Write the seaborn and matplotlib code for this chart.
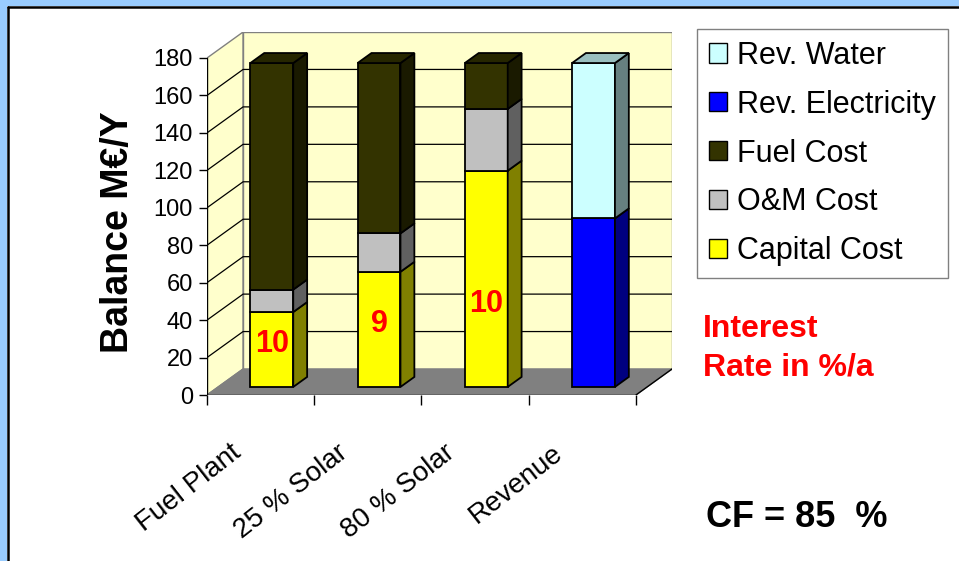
#!/usr/bin/env python3
"""
plot.py

Excel-style 3D stacked bar chart: annual balance of a fuel plant vs. solar
hybrid plants against revenue (seaborn front faces + projected side faces).
"""

import numpy as np
import pandas as pd
import matplotlib
matplotlib.use('Agg')
import matplotlib.pyplot as plt
from matplotlib.patches import Polygon, Patch, Rectangle
from matplotlib.lines import Line2D
import seaborn as sns


CATEGORIES = ['Fuel Plant', '25 % Solar', '80 % Solar', 'Revenue']
CAPITAL = [40, 61.5, 115.5, 0]
OM = [12, 20.5, 33, 0]
FUEL = [121, 91, 24.5, 0]
REV_ELEC = [0, 0, 0, 90]
REV_WATER = [0, 0, 0, 83]
INTEREST = ['10', '9', '10']
Y_TICKS = list(range(0, 181, 20))

# bottom -> top: (label, values, front colour, side colour, top colour)
SERIES = [
    ('Capital Cost', CAPITAL, '#ffff00', '#808000', '#bfbf00'),
    ('O&M Cost', OM, '#c0c0c0', '#606060', '#909090'),
    ('Fuel Cost', FUEL, '#333300', '#1a1a00', '#262600'),
    ('Rev. Electricity', REV_ELEC, '#0000ff', '#000080', '#0000bf'),
    ('Rev. Water', REV_WATER, '#ccffff', '#668080', '#99bfbf'),
]

# 3D look, in data units
DX, DY = 36 / 107, 26 * 180 / 337     # depth of the box
BAR_Z0, BAR_DZ = 0.31, 0.385          # bar front position / thickness (fraction of depth)
BAR_W = 0.4
YMAX = 180
W, H = 959, 561


def fx(px):
    return px / W


def fy(py):
    return 1 - py / H


sns.set_style('white')
plt.rcParams['font.family'] = ['Liberation Sans', 'DejaVu Sans']
plt.rcParams['text.color'] = 'black'
plt.rcParams['axes.labelcolor'] = 'black'

fig = plt.figure(figsize=(W / 100, H / 100), dpi=100)
fig.patch.set_facecolor('white')
ax = fig.add_axes([fx(207), fy(395), 465 / W, 363 / H])
ax.set_facecolor('none')

x0, x1 = -0.5, len(CATEGORIES) - 0.5

# --- walls, floor, gridlines ---
ax.add_patch(Polygon([(x0, 0), (x0 + DX, DY), (x0 + DX, YMAX + DY), (x0, YMAX)],
                     closed=True, fc='#ffffcc', ec='#808080', lw=1, zorder=0))
ax.add_patch(Rectangle((x0 + DX, DY), x1 - x0, YMAX,
                       fc='#ffffcc', ec='#808080', lw=1, zorder=0))
ax.add_patch(Polygon([(x0, 0), (x1, 0), (x1 + DX, DY), (x0 + DX, DY)],
                     closed=True, fc='#808080', ec='#808080', lw=1, zorder=0.5))
for v in Y_TICKS[1:-1]:
    ax.plot([x0, x0 + DX, x1 + DX], [v, v + DY, v + DY], color='black', lw=0.9, zorder=1)
ax.plot([x1, x1 + DX], [0, DY], color='black', lw=1, zorder=1)
ax.plot([x0, x0], [0, YMAX], color='black', lw=1, zorder=1)
ax.plot([x0, x1], [0, 0], color='black', lw=1, zorder=1)

# --- stacked bars ---
totals = np.sum([s[1] for s in SERIES], axis=0)
bottom = np.zeros(len(CATEGORIES))
ddx, ddy = BAR_DZ * DX, BAR_DZ * DY
for name, vals, face, side, topc in SERIES:
    vals = np.asarray(vals, dtype=float)
    keep = vals > 0
    df = pd.DataFrame({'scenario': np.array(CATEGORIES)[keep], 'value': vals[keep]})
    n = len(ax.patches)
    sns.barplot(data=df, x='scenario', y='value', order=CATEGORIES, color=face,
                saturation=1, width=BAR_W, bottom=list(bottom[keep]), errorbar=None,
                edgecolor='black', linewidth=1.3, ax=ax, zorder=3)
    is_top = (bottom + vals >= totals - 1e-9)[keep]
    for p, top_flag in zip(ax.patches[n:], is_top):
        px = p.get_x() + BAR_Z0 * DX
        py = p.get_y() + BAR_Z0 * DY
        w, h = p.get_width(), p.get_height()
        p.set_x(px)
        p.set_y(py)
        ax.add_patch(Polygon([(px + w, py), (px + w + ddx, py + ddy),
                              (px + w + ddx, py + h + ddy), (px + w, py + h)],
                             closed=True, fc=side, ec='black', lw=1.3, zorder=3))
        if top_flag:
            ax.add_patch(Polygon([(px, py + h), (px + w, py + h),
                                  (px + w + ddx, py + h + ddy), (px + ddx, py + h + ddy)],
                                 closed=True, fc=topc, ec='black', lw=1.3, zorder=3))
    bottom += vals

# interest rate labels on the capital cost segment
label_base = [23, 33.7, 44.3]
for i, txt in enumerate(INTEREST):
    ax.text(i + BAR_Z0 * DX, label_base[i], txt, ha='center', va='baseline',
            color='red', fontsize=22, fontweight='bold', zorder=5)

# --- axes ---
ax.set_xlim(x0, x1 + DX)
ax.set_ylim(0, YMAX + DY)
for s in ax.spines.values():
    s.set_visible(False)
ax.set_yticks(Y_TICKS)
ax.tick_params(axis='y', left=True, length=6, width=1, pad=4, labelsize=17,
               colors='black', direction='out')
ax.set_xticks([])
ax.set_xticks(np.arange(x0, x1 + 0.01, 1), minor=True)
ax.tick_params(axis='x', which='minor', bottom=True, length=7, width=1,
               colors='black', direction='out')
ax.set_xlabel('')
ax.set_ylabel('Balance M€/Y', fontsize=27, fontweight='bold', color='black')
ax.yaxis.set_label_coords(-0.153, 0.449)

for i, c in enumerate(CATEGORIES):
    ax.text(i - 23 / 107, -0.152, c, transform=ax.get_xaxis_transform(),
            rotation=38, ha='right', va='center', rotation_mode='anchor',
            fontsize=20, color='black')

# --- legend ---
handles = [Patch(facecolor=s[2], edgecolor='black', lw=1, label=s[0]) for s in reversed(SERIES)]
leg = fig.legend(handles=handles, loc='upper left', bbox_to_anchor=(fx(697), fy(29)),
                 fontsize=22, frameon=True, fancybox=False, edgecolor='#808080',
                 framealpha=1, borderpad=0.38, labelspacing=0.62, handlelength=0.6,
                 handleheight=0.6, handletextpad=0.33, borderaxespad=0, labelcolor='black')
leg.get_frame().set_linewidth(1)

# --- notes ---
fig.text(fx(703), fy(337), 'Interest', color='red', fontsize=23, fontweight='bold', va='baseline')
fig.text(fx(703), fy(375), 'Rate in %/a', color='red', fontsize=23, fontweight='bold', va='baseline')
fig.text(fx(706), fy(527), 'CF = 85  %', color='black', fontsize=26, fontweight='bold', va='baseline')

# --- slide frame (light blue band + black rule on left/top) ---
fig.add_artist(Rectangle((0, 0), fx(7), 1, transform=fig.transFigure, fc='#99ccff', ec='none'))
fig.add_artist(Rectangle((0, fy(6)), 1, 6 / H, transform=fig.transFigure, fc='#99ccff', ec='none'))
fig.add_artist(Line2D([fx(8), fx(8)], [0, fy(7)], transform=fig.transFigure, color='black', lw=1.8))
fig.add_artist(Line2D([fx(8), 1], [fy(7), fy(7)], transform=fig.transFigure, color='black', lw=1.8))

fig.savefig('out.png', dpi=100)
